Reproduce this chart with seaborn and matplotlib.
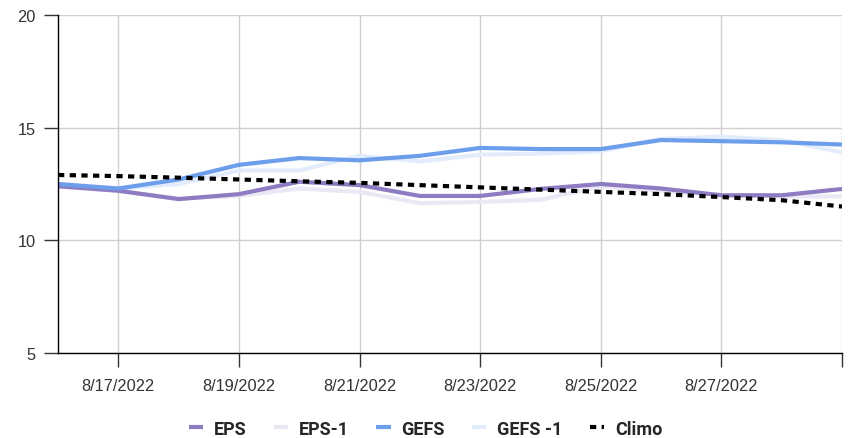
"""Ensemble forecast vs climatology line chart (August 2022)."""

import matplotlib.pyplot as plt
import pandas as pd
import seaborn as sns

DATES = pd.date_range("2022-08-16", "2022-08-29", freq="D")

EPS = [12.4, 12.2, 11.83, 12.05, 12.6, 12.45, 11.97, 11.97, 12.28, 12.5, 12.3, 12.0, 12.0, 12.28]
EPS_1 = [12.4, 12.2, 11.85, 11.97, 12.3, 12.15, 11.65, 11.7, 11.8, 12.4, 12.2, 12.0, 11.95, 11.95]
GEFS = [12.5, 12.3, 12.7, 13.35, 13.65, 13.55, 13.75, 14.1, 14.05, 14.05, 14.45, 14.4, 14.35, 14.25]
GEFS_1 = [12.4, 12.3, 12.5, 13.1, 13.1, 13.75, 13.5, 13.8, 13.85, 13.95, 14.5, 14.6, 14.45, 13.9]
CLIMO = [12.9, 12.85, 12.78, 12.7, 12.62, 12.55, 12.45, 12.35, 12.25, 12.15, 12.05, 11.92, 11.78, 11.5]

SERIES = ["EPS", "EPS-1", "GEFS", "GEFS -1", "Climo"]
COLORS = {
    "EPS": "#8e7cc3",
    "EPS-1": "#ebe8f5",
    "GEFS": "#6d9eeb",
    "GEFS -1": "#e3ecfc",
    "Climo": "#000000",
}
Y_TICKS = [5, 10, 15, 20]
X_TICK_DATES = pd.date_range("2022-08-17", "2022-08-29", freq="2D")

data = pd.DataFrame({"date": DATES, "EPS": EPS, "EPS-1": EPS_1, "GEFS": GEFS,
                     "GEFS -1": GEFS_1, "Climo": CLIMO})
long = data.melt(id_vars="date", var_name="series", value_name="value")

sns.set_theme(style="white")
plt.rcParams["font.family"] = ["Roboto", "DejaVu Sans"]

fig = plt.figure(figsize=(8.51, 4.39), dpi=100)
ax = fig.add_axes([0.0682, 0.1936, 0.9212, 0.77])

# faint "-1" runs first so the current runs sit on top
for name in ["EPS-1", "GEFS -1", "EPS", "GEFS"]:
    sns.lineplot(data=long[long["series"] == name], x="date", y="value",
                 color=COLORS[name], linewidth=3.0, ax=ax, label=name,
                 solid_capstyle="butt")
sns.lineplot(data=long[long["series"] == "Climo"], x="date", y="value",
             color="black", linewidth=3.0, ax=ax, label="Climo")
ax.lines[-1].set_dashes((1.5, 1.3))
ax.lines[-1].set_dash_capstyle("butt")

ax.set_xlim(DATES[0], DATES[-1])
ax.set_ylim(5, 20)
ax.set_yticks(Y_TICKS)
ax.set_xticks(X_TICK_DATES)
ax.set_xticklabels([d.strftime("%-m/%-d/%Y") if d != X_TICK_DATES[-1] else ""
                    for d in X_TICK_DATES])
ax.set_xlabel("")
ax.set_ylabel("")

ax.grid(True, color="#d0d0d0", linewidth=1.0)
ax.set_axisbelow(True)
for side in ["top", "right"]:
    ax.spines[side].set_visible(False)
for side in ["left", "bottom"]:
    ax.spines[side].set_color("black")
    ax.spines[side].set_linewidth(1.0)

for lbl in ax.get_xticklabels() + ax.get_yticklabels():
    lbl.set_fontfamily("Liberation Sans")
    lbl.set_fontsize(11.8)
ax.tick_params(axis="y", length=10, width=1.0, color="#333333", pad=6,
               labelcolor="#333333", left=True)
ax.tick_params(axis="x", length=10, width=1.0, color="#333333", pad=8,
               labelcolor="#333333", bottom=True)

handles, labels = ax.get_legend_handles_labels()
order = [labels.index(s) for s in SERIES]
ax.get_legend().remove()
fig.legend([handles[i] for i in order], SERIES, loc="center",
           bbox_to_anchor=(0.5, 0.021), ncol=5, frameon=False,
           handlelength=0.8, handletextpad=0.6, columnspacing=1.5,
           prop={"weight": "bold", "size": 13})

fig.savefig("out.png", dpi=100)
